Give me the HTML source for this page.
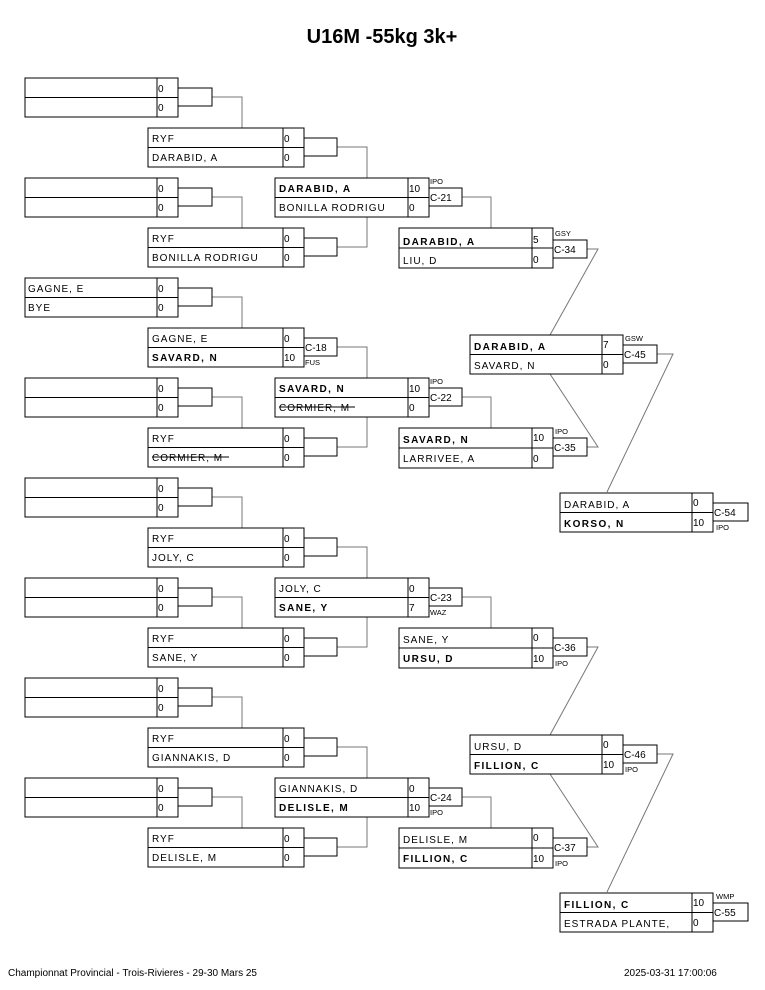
<!DOCTYPE html>
<html><head><meta charset="utf-8"><style>
body{margin:0;background:#fff}
svg{display:block}
text{font-family:"Liberation Sans",sans-serif;font-size:10px;letter-spacing:1px;fill:#000}
text[x="158"],text[x="284"],text[x="409"],text[x="533"],text[x="603"],text[x="693"]{letter-spacing:0}
.b{font-weight:bold;letter-spacing:1.4px}
.s{font-size:7.5px;letter-spacing:0}
.t{font-size:20px;font-weight:bold;letter-spacing:0}
.f{font-size:10px;letter-spacing:0}
rect{fill:#fff;stroke:#000;stroke-width:1}
.l{stroke:#777;fill:none;stroke-width:1}
.d{stroke:#000;stroke-width:1}
.st{stroke:#000;stroke-width:1}
</style></head><body>
<svg width="765" height="990" xmlns="http://www.w3.org/2000/svg">
<text class="t" x="382" y="43" text-anchor="middle">U16M -55kg 3k+</text>

<g class="l">
<path d="M212 97H242V128M212 197H242V228M212 297H242V328M212 397H242V428M212 497H242V528M212 597H242V628M212 697H242V728M212 797H242V828"/>
<path d="M337 147H367V178M337 247H367V217M337 347H367V378M337 447H367V417M337 547H367V578M337 647H367V617M337 747H367V778M337 847H367V817"/>
<path d="M462 197H491V228M462 397H491V428M462 597H491V628M462 797H491V828"/>
<path d="M587 249H598L550 335M587 447H598L550 374M587 647H598L550 735M587 847H598L550 774"/>
<path d="M657 354H673L607 492M657 754H673L607 892"/>
</g>

<g>
<rect x="25" y="78" width="153" height="39"/><line class="d" x1="25" y1="97.5" x2="178" y2="97.5"/><line class="d" x1="157" y1="78" x2="157" y2="117"/><text x="158" y="92">0</text><text x="158" y="111">0</text><rect x="178" y="88" width="34" height="18"/>
<rect x="25" y="178" width="153" height="39"/><line class="d" x1="25" y1="197.5" x2="178" y2="197.5"/><line class="d" x1="157" y1="178" x2="157" y2="217"/><text x="158" y="192">0</text><text x="158" y="211">0</text><rect x="178" y="188" width="34" height="18"/>
<rect x="25" y="278" width="153" height="39"/><line class="d" x1="25" y1="297.5" x2="178" y2="297.5"/><line class="d" x1="157" y1="278" x2="157" y2="317"/><text x="28" y="292">GAGNE, E</text><text x="28" y="311">BYE</text><text x="158" y="292">0</text><text x="158" y="311">0</text><rect x="178" y="288" width="34" height="18"/>
<rect x="25" y="378" width="153" height="39"/><line class="d" x1="25" y1="397.5" x2="178" y2="397.5"/><line class="d" x1="157" y1="378" x2="157" y2="417"/><text x="158" y="392">0</text><text x="158" y="411">0</text><rect x="178" y="388" width="34" height="18"/>
<rect x="25" y="478" width="153" height="39"/><line class="d" x1="25" y1="497.5" x2="178" y2="497.5"/><line class="d" x1="157" y1="478" x2="157" y2="517"/><text x="158" y="492">0</text><text x="158" y="511">0</text><rect x="178" y="488" width="34" height="18"/>
<rect x="25" y="578" width="153" height="39"/><line class="d" x1="25" y1="597.5" x2="178" y2="597.5"/><line class="d" x1="157" y1="578" x2="157" y2="617"/><text x="158" y="592">0</text><text x="158" y="611">0</text><rect x="178" y="588" width="34" height="18"/>
<rect x="25" y="678" width="153" height="39"/><line class="d" x1="25" y1="697.5" x2="178" y2="697.5"/><line class="d" x1="157" y1="678" x2="157" y2="717"/><text x="158" y="692">0</text><text x="158" y="711">0</text><rect x="178" y="688" width="34" height="18"/>
<rect x="25" y="778" width="153" height="39"/><line class="d" x1="25" y1="797.5" x2="178" y2="797.5"/><line class="d" x1="157" y1="778" x2="157" y2="817"/><text x="158" y="792">0</text><text x="158" y="811">0</text><rect x="178" y="788" width="34" height="18"/>
</g>

<g>
<rect x="148" y="128" width="156" height="39"/><line class="d" x1="148" y1="147.5" x2="304" y2="147.5"/><line class="d" x1="283" y1="128" x2="283" y2="167"/><text x="152" y="142">RYF</text><text x="152" y="161">DARABID, A</text><text x="284" y="142">0</text><text x="284" y="161">0</text><rect x="304" y="138" width="33" height="18"/>
<rect x="148" y="228" width="156" height="39"/><line class="d" x1="148" y1="247.5" x2="304" y2="247.5"/><line class="d" x1="283" y1="228" x2="283" y2="267"/><text x="152" y="242">RYF</text><text x="152" y="261">BONILLA RODRIGU</text><text x="284" y="242">0</text><text x="284" y="261">0</text><rect x="304" y="238" width="33" height="18"/>
<rect x="148" y="328" width="156" height="39"/><line class="d" x1="148" y1="347.5" x2="304" y2="347.5"/><line class="d" x1="283" y1="328" x2="283" y2="367"/><text x="152" y="342">GAGNE, E</text><text class="b" x="152" y="361">SAVARD, N</text><text x="284" y="342">0</text><text x="284" y="361">10</text><rect x="304" y="338" width="33" height="18"/><text class="f" x="305" y="351">C-18</text><text class="s" x="305" y="365">FUS</text>
<rect x="148" y="428" width="156" height="39"/><line class="d" x1="148" y1="447.5" x2="304" y2="447.5"/><line class="d" x1="283" y1="428" x2="283" y2="467"/><text x="152" y="442">RYF</text><text x="152" y="461">CORMIER, M</text><line class="st" x1="152" y1="457" x2="229" y2="457"/><text x="284" y="442">0</text><text x="284" y="461">0</text><rect x="304" y="438" width="33" height="18"/>
<rect x="148" y="528" width="156" height="39"/><line class="d" x1="148" y1="547.5" x2="304" y2="547.5"/><line class="d" x1="283" y1="528" x2="283" y2="567"/><text x="152" y="542">RYF</text><text x="152" y="561">JOLY, C</text><text x="284" y="542">0</text><text x="284" y="561">0</text><rect x="304" y="538" width="33" height="18"/>
<rect x="148" y="628" width="156" height="39"/><line class="d" x1="148" y1="647.5" x2="304" y2="647.5"/><line class="d" x1="283" y1="628" x2="283" y2="667"/><text x="152" y="642">RYF</text><text x="152" y="661">SANE, Y</text><text x="284" y="642">0</text><text x="284" y="661">0</text><rect x="304" y="638" width="33" height="18"/>
<rect x="148" y="728" width="156" height="39"/><line class="d" x1="148" y1="747.5" x2="304" y2="747.5"/><line class="d" x1="283" y1="728" x2="283" y2="767"/><text x="152" y="742">RYF</text><text x="152" y="761">GIANNAKIS, D</text><text x="284" y="742">0</text><text x="284" y="761">0</text><rect x="304" y="738" width="33" height="18"/>
<rect x="148" y="828" width="156" height="39"/><line class="d" x1="148" y1="847.5" x2="304" y2="847.5"/><line class="d" x1="283" y1="828" x2="283" y2="867"/><text x="152" y="842">RYF</text><text x="152" y="861">DELISLE, M</text><text x="284" y="842">0</text><text x="284" y="861">0</text><rect x="304" y="838" width="33" height="18"/>
</g>

<g>
<rect x="275" y="178" width="154" height="39"/><line class="d" x1="275" y1="197.5" x2="429" y2="197.5"/><line class="d" x1="408" y1="178" x2="408" y2="217"/><text class="b" x="279" y="192">DARABID, A</text><text x="279" y="211">BONILLA RODRIGU</text><text x="409" y="192">10</text><text x="409" y="211">0</text><rect x="429" y="188" width="33" height="18"/><text class="f" x="430" y="201">C-21</text><text class="s" x="430" y="184">IPO</text>
<rect x="275" y="378" width="154" height="39"/><line class="d" x1="275" y1="397.5" x2="429" y2="397.5"/><line class="d" x1="408" y1="378" x2="408" y2="417"/><text class="b" x="279" y="392">SAVARD, N</text><text x="279" y="411">CORMIER, M</text><line class="st" x1="279" y1="407" x2="355" y2="407"/><text x="409" y="392">10</text><text x="409" y="411">0</text><rect x="429" y="388" width="33" height="18"/><text class="f" x="430" y="401">C-22</text><text class="s" x="430" y="384">IPO</text>
<rect x="275" y="578" width="154" height="39"/><line class="d" x1="275" y1="597.5" x2="429" y2="597.5"/><line class="d" x1="408" y1="578" x2="408" y2="617"/><text x="279" y="592">JOLY, C</text><text class="b" x="279" y="611">SANE, Y</text><text x="409" y="592">0</text><text x="409" y="611">7</text><rect x="429" y="588" width="33" height="18"/><text class="f" x="430" y="601">C-23</text><text class="s" x="430" y="615">WAZ</text>
<rect x="275" y="778" width="154" height="39"/><line class="d" x1="275" y1="797.5" x2="429" y2="797.5"/><line class="d" x1="408" y1="778" x2="408" y2="817"/><text x="279" y="792">GIANNAKIS, D</text><text class="b" x="279" y="811">DELISLE, M</text><text x="409" y="792">0</text><text x="409" y="811">10</text><rect x="429" y="788" width="33" height="18"/><text class="f" x="430" y="801">C-24</text><text class="s" x="430" y="815">IPO</text>
</g>

<g>
<rect x="399" y="228" width="154" height="40"/><line class="d" x1="399" y1="248" x2="553" y2="248"/><line class="d" x1="532" y1="228" x2="532" y2="268"/><text class="b" x="403" y="245">DARABID, A</text><text x="403" y="264">LIU, D</text><text x="533" y="243">5</text><text x="533" y="263">0</text><rect x="553" y="240" width="34" height="18"/><text class="f" x="554" y="253">C-34</text><text class="s" x="555" y="236">GSY</text>
<rect x="399" y="428" width="154" height="40"/><line class="d" x1="399" y1="448" x2="553" y2="448"/><line class="d" x1="532" y1="428" x2="532" y2="468"/><text class="b" x="403" y="443">SAVARD, N</text><text x="403" y="462">LARRIVEE, A</text><text x="533" y="441">10</text><text x="533" y="462">0</text><rect x="553" y="438" width="34" height="18"/><text class="f" x="554" y="451">C-35</text><text class="s" x="555" y="434">IPO</text>
<rect x="399" y="628" width="154" height="40"/><line class="d" x1="399" y1="648" x2="553" y2="648"/><line class="d" x1="532" y1="628" x2="532" y2="668"/><text x="403" y="643">SANE, Y</text><text class="b" x="403" y="662">URSU, D</text><text x="533" y="641">0</text><text x="533" y="662">10</text><rect x="553" y="638" width="34" height="18"/><text class="f" x="554" y="651">C-36</text><text class="s" x="555" y="666">IPO</text>
<rect x="399" y="828" width="154" height="40"/><line class="d" x1="399" y1="848" x2="553" y2="848"/><line class="d" x1="532" y1="828" x2="532" y2="868"/><text x="403" y="843">DELISLE, M</text><text class="b" x="403" y="862">FILLION, C</text><text x="533" y="841">0</text><text x="533" y="862">10</text><rect x="553" y="838" width="34" height="18"/><text class="f" x="554" y="851">C-37</text><text class="s" x="555" y="866">IPO</text>
</g>

<g>
<rect x="470" y="335" width="153" height="39"/><line class="d" x1="470" y1="354.5" x2="623" y2="354.5"/><line class="d" x1="602" y1="335" x2="602" y2="374"/><text class="b" x="474" y="350">DARABID, A</text><text x="474" y="369">SAVARD, N</text><text x="603" y="348">7</text><text x="603" y="368">0</text><rect x="623" y="345" width="34" height="18"/><text class="f" x="624" y="358">C-45</text><text class="s" x="625" y="341">GSW</text>
<rect x="470" y="735" width="153" height="39"/><line class="d" x1="470" y1="754.5" x2="623" y2="754.5"/><line class="d" x1="602" y1="735" x2="602" y2="774"/><text x="474" y="750">URSU, D</text><text class="b" x="474" y="769">FILLION, C</text><text x="603" y="748">0</text><text x="603" y="768">10</text><rect x="623" y="745" width="34" height="18"/><text class="f" x="624" y="758">C-46</text><text class="s" x="625" y="772">IPO</text>
</g>

<g>
<rect x="560" y="493" width="153" height="39"/><line class="d" x1="560" y1="512.5" x2="713" y2="512.5"/><line class="d" x1="692" y1="493" x2="692" y2="532"/><text x="564" y="508">DARABID, A</text><text class="b" x="564" y="527">KORSO, N</text><text x="693" y="506">0</text><text x="693" y="526">10</text><rect x="713" y="503" width="35" height="18"/><text class="f" x="714" y="516">C-54</text><text class="s" x="716" y="530">IPO</text>
<rect x="560" y="893" width="153" height="39"/><line class="d" x1="560" y1="912.5" x2="713" y2="912.5"/><line class="d" x1="692" y1="893" x2="692" y2="932"/><text class="b" x="564" y="908">FILLION, C</text><text x="564" y="927">ESTRADA PLANTE,</text><text x="693" y="906">10</text><text x="693" y="926">0</text><rect x="713" y="903" width="35" height="18"/><text class="f" x="714" y="916">C-55</text><text class="s" x="716" y="899">WMP</text>
</g>

<text class="f" x="8" y="976">Championnat Provincial - Trois-Rivieres -  29-30 Mars 25</text>
<text class="f" x="624" y="976">2025-03-31 17:00:06</text>
</svg>
</body></html>
